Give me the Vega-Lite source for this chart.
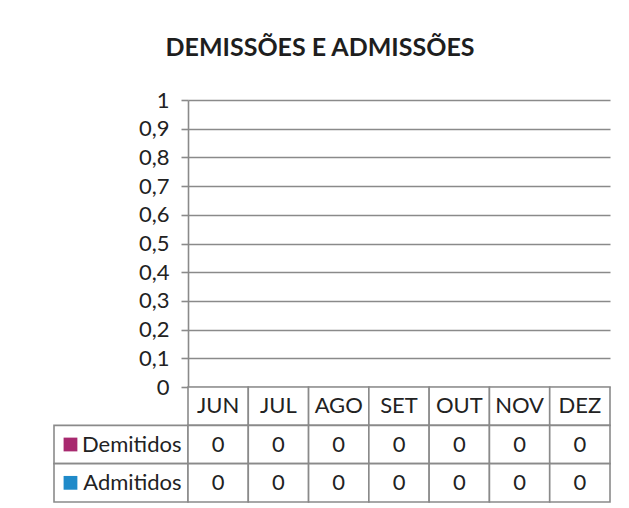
{
  "$schema": "https://vega.github.io/schema/vega-lite/v6.json",
  "padding": {"left": 53, "top": 36, "right": 20, "bottom": 4},
  "background": "white",
  "title": {"text": "DEMISSÕES E ADMISSÕES", "font": "Lato", "fontSize": 25, "fontWeight": "bold", "color": "#1e1e1e", "anchor": "middle", "dx": -12, "offset": 28},
  "datasets": {
    "dados": [
      {"mes": "JUN", "serie": "Demitidos", "valor": 0},
      {"mes": "JUL", "serie": "Demitidos", "valor": 0},
      {"mes": "AGO", "serie": "Demitidos", "valor": 0},
      {"mes": "SET", "serie": "Demitidos", "valor": 0},
      {"mes": "OUT", "serie": "Demitidos", "valor": 0},
      {"mes": "NOV", "serie": "Demitidos", "valor": 0},
      {"mes": "DEZ", "serie": "Demitidos", "valor": 0},
      {"mes": "JUN", "serie": "Admitidos", "valor": 0},
      {"mes": "JUL", "serie": "Admitidos", "valor": 0},
      {"mes": "AGO", "serie": "Admitidos", "valor": 0},
      {"mes": "SET", "serie": "Admitidos", "valor": 0},
      {"mes": "OUT", "serie": "Admitidos", "valor": 0},
      {"mes": "NOV", "serie": "Admitidos", "valor": 0},
      {"mes": "DEZ", "serie": "Admitidos", "valor": 0}
    ]
  },
  "columns": 2,
  "spacing": 0,
  "bounds": "flush",
  "align": "each",
  "resolve": {"scale": {"x": "independent", "y": "independent"}},
  "config": {"view": {"stroke": null}, "font": "Lato"},
  "concat": [
    {
      "width": 134, "height": 287,
      "data": {"values": []},
      "mark": {"type": "point", "opacity": 0},
      "encoding": {}
    },
    {
      "width": 422, "height": 287,
      "data": {"name": "dados"},
      "mark": {"type": "bar"},
      "encoding": {
        "x": {"field": "mes", "type": "nominal", "scale": {"domain": ["JUN", "JUL", "AGO", "SET", "OUT", "NOV", "DEZ"], "paddingInner": 0.3, "paddingOuter": 0.15}, "axis": null},
        "xOffset": {"field": "serie", "type": "nominal", "scale": {"domain": ["Demitidos", "Admitidos"]}},
        "y": {"field": "valor", "type": "quantitative", "scale": {"domain": [0, 1]},
          "axis": {"title": null, "values": [0, 0.1, 0.2, 0.3, 0.4, 0.5, 0.6, 0.7, 0.8, 0.9, 1],
            "labelExpr": "replace(format(datum.value, '.1~f'), '.', ',')",
            "grid": true, "gridColor": "#8a8a8a", "gridWidth": 1.6,
            "domainColor": "#8a8a8a", "domainWidth": 1.6,
            "tickColor": "#8a8a8a", "tickWidth": 1.6, "tickSize": 7,
            "labelFont": "Lato", "labelFontSize": 22, "labelColor": "#222", "labelPadding": 12}},
        "color": {"field": "serie", "type": "nominal", "scale": {"domain": ["Demitidos", "Admitidos"], "range": ["#A8296F", "#1F8AC9"]}, "legend": null}
      }
    },
    {
      "width": 134, "height": 115,
      "data": {"name": "dados"},
      "transform": [{"filter": "datum.mes === 'JUN'"}],
      "layer": [
        {
          "mark": {"type": "rect", "fill": "white", "stroke": "#8a8a8a", "strokeWidth": 1.6},
          "encoding": {
            "y": {"field": "serie", "type": "nominal", "scale": {"domain": ["cab", "Demitidos", "Admitidos"], "paddingInner": 0, "paddingOuter": 0}, "axis": null}
          }
        },
        {
          "mark": {"type": "point", "shape": "square", "filled": true, "size": 190, "opacity": 1},
          "encoding": {
            "y": {"field": "serie", "type": "nominal"},
            "x": {"datum": 0.123, "type": "quantitative", "scale": {"domain": [0, 1]}, "axis": null},
            "color": {"field": "serie", "type": "nominal", "legend": null}
          }
        }
      ]
    },
    {
      "width": 422, "height": 115,
      "data": {"name": "dados"},
      "encoding": {
        "x": {"field": "mes", "type": "nominal", "scale": {"domain": ["JUN", "JUL", "AGO", "SET", "OUT", "NOV", "DEZ"], "paddingInner": 0, "paddingOuter": 0}, "axis": null}
      },
      "layer": [
        {
          "transform": [{"filter": "datum.serie === 'Demitidos'"}],
          "mark": {"type": "rect", "fill": "white", "stroke": "#8a8a8a", "strokeWidth": 1.6},
          "encoding": {
            "y": {"datum": "cab", "type": "nominal",
              "scale": {"domain": ["cab", "Demitidos", "Admitidos"], "paddingInner": 0, "paddingOuter": 0},
              "axis": {"title": null, "labelExpr": "datum.value === 'cab' ? '' : datum.value", "ticks": false, "domain": false, "grid": false, "labelPadding": 7, "labelFont": "Lato", "labelFontSize": 22, "labelColor": "#222"}}
          }
        },
        {
          "mark": {"type": "rect", "fill": "white", "stroke": "#8a8a8a", "strokeWidth": 1.6},
          "encoding": {"y": {"field": "serie", "type": "nominal"}}
        },
        {
          "transform": [{"filter": "datum.serie === 'Demitidos'"}],
          "mark": {"type": "text", "font": "Lato", "fontSize": 22, "color": "#222"},
          "encoding": {"y": {"datum": "cab", "type": "nominal"}, "text": {"field": "mes"}}
        },
        {
          "mark": {"type": "text", "font": "Lato", "fontSize": 22, "color": "#222"},
          "encoding": {"y": {"field": "serie", "type": "nominal"}, "text": {"field": "valor"}}
        }
      ]
    }
  ]
}
